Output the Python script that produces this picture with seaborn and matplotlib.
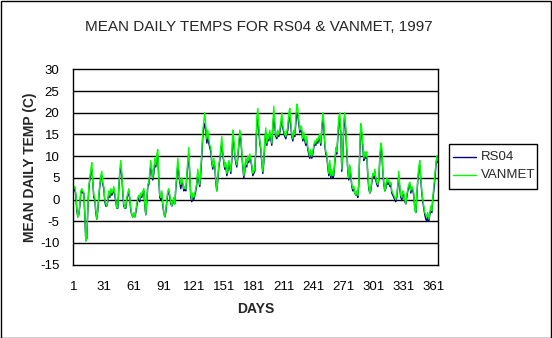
import numpy as np
import pandas as pd
import matplotlib
matplotlib.use("Agg")
import matplotlib.pyplot as plt
import seaborn as sns
from matplotlib.patches import Rectangle

title = "MEAN DAILY TEMPS FOR RS04 & VANMET, 1997"
x_label = "DAYS"
y_label = "MEAN DAILY TEMP (C)"
x_tick_labels = [1, 31, 61, 91, 121, 151, 181, 211, 241, 271, 301, 331, 361]
y_ticks = [-15, -10, -5, 0, 5, 10, 15, 20, 25, 30]

vanmet = [
    2.5, 3.0, 1.5, -2.0, -4.0, -3.5, -1.0, 2.0, 2.5, 2.0,
    1.5, -3.0, -9.5, -8.5, -2.0, 3.0, 5.0, 7.0, 8.5, 4.0,
    1.0, 0.5, -2.5, -4.5, -2.0, 1.0, 3.5, 5.5, 6.5, 4.0,
    3.0, 0.0, -1.0, -1.5, 0.0, 2.0, 1.0, 2.5, 1.5, 2.0,
    3.0, 1.5, 0.0, -2.0, -1.5, 3.0, 7.0, 9.0, 6.0, 2.0,
    -1.0, -2.0, -1.5, 0.5, 1.5, 2.5, 0.5, -2.0, -3.5, -4.0,
    -3.0, -4.0, -2.5, -1.0, 0.5, 1.0, 0.0, 1.5, 1.0, 2.0,
    2.5, -1.0, -3.5, 0.0, 3.5, 4.0, 6.5, 9.0, 7.0, 5.0,
    7.0, 9.5, 8.0, 10.5, 11.5, 5.0, 1.0, 0.5, 2.0, -1.0,
    -3.0, -4.0, -2.5, 0.0, 2.0, 2.5, 1.0, -0.5, -1.5, -0.5,
    0.5, -1.0, 3.0, 6.0, 9.5, 7.0, 4.5, 3.5, 5.0, 4.0,
    2.5, 3.0, 2.5, 5.5, 9.0, 12.0, 6.0, 1.0, 0.0, 1.5,
    0.5, 1.5, 2.5, 4.0, 7.0, 5.0, 3.5, 7.0, 11.0, 16.0,
    18.0, 20.0, 17.0, 14.0, 16.0, 14.0, 12.5, 12.0, 9.0, 7.5,
    9.5, 8.0, 4.5, 2.0, 5.0, 8.0, 9.5, 12.0, 14.5, 11.0,
    9.0, 7.5, 8.5, 6.0, 7.0, 9.0, 8.0, 6.5, 10.0, 16.0,
    14.0, 10.5, 9.0, 8.0, 10.0, 13.5, 16.0, 15.0, 11.0, 8.0,
    5.5, 7.0, 9.5, 8.0, 10.0, 9.0, 10.5, 9.5, 8.0, 6.0,
    6.5, 7.0, 12.0, 19.0, 21.0, 17.0, 13.5, 12.0, 9.0, 6.5,
    9.0, 14.0, 16.5, 13.0, 15.0, 14.0, 16.0, 14.5, 13.0, 17.0,
    21.5, 18.0, 15.0, 14.5, 16.0, 15.0, 16.0, 18.0, 20.0, 17.0,
    16.0, 15.0, 14.5, 15.5, 17.0, 20.0, 21.0, 18.0, 15.0, 14.0,
    16.0, 15.0, 19.0, 22.0, 21.0, 18.5, 16.0, 17.0, 16.5, 14.0,
    15.5, 14.0, 13.0, 14.5, 12.0, 11.0, 10.0, 11.5, 10.0, 11.0,
    12.5, 13.5, 13.0, 14.0, 13.5, 14.5, 15.0, 13.0, 17.0, 20.0,
    18.0, 13.0, 11.0, 10.5, 8.0, 6.0, 9.0, 5.5, 7.0, 5.5,
    6.0, 9.0, 12.0, 11.0, 15.0, 19.0, 20.0, 16.0, 7.0, 11.0,
    18.5, 20.0, 16.5, 12.0, 7.0, 5.0, 8.0, 6.0, 3.5, 2.5,
    3.0, 1.5, 1.0, 2.0, 1.0, 4.0, 12.0, 17.5, 16.0, 13.0,
    9.5, 11.0, 10.0, 11.0, 6.0, 3.0, 1.5, 2.5, 4.5, 6.0,
    5.5, 7.0, 5.0, 4.0, 3.5, 5.0, 10.0, 13.0, 12.0, 7.0,
    4.0, 2.0, 3.0, 5.0, 4.0, 4.5, 3.5, 4.0, 2.0, 1.5,
    1.0, 0.5, 0.0, 1.0, 3.5, 6.5, 3.0, 1.0, 0.5, 2.0,
    1.5, 0.0, -1.0, 1.0, 2.5, 3.5, 4.0, 2.0, 3.0, 2.5,
    1.5, -2.5, -3.0, 1.0, 5.0, 7.5, 9.0, 5.0, 2.0, 0.0,
    -1.5, -3.0, -3.5, -4.0, -3.0, -4.5, -3.0, -1.5, -2.5, 0.5,
    3.0, 5.5, 8.0, 10.0, 9.0,
]

rs04 = [
    2.0, 2.5, 1.0, -2.5, -4.0, -3.5, -1.5, 1.5, 2.0, 1.5,
    1.5, -3.5, -9.5, -9.0, -2.5, 2.5, 4.5, 6.0, 7.0, 4.0,
    0.5, 0.0, -3.0, -4.5, -2.5, 0.5, 3.0, 5.0, 5.5, 3.5,
    2.5, -0.5, -1.5, -1.5, -0.5, 1.5, 0.5, 2.0, 1.0, 1.5,
    2.5, 1.0, -0.5, -2.0, -2.0, 2.5, 6.0, 7.5, 5.5, 1.5,
    -1.5, -2.0, -2.0, 0.0, 1.0, 2.0, 0.0, -2.5, -3.5, -4.0,
    -3.5, -4.0, -3.0, -1.5, 0.0, 0.5, -0.5, 1.0, 0.5, 1.5,
    2.0, -1.5, -3.5, -0.5, 3.0, 3.5, 5.5, 8.0, 6.5, 4.5,
    6.0, 8.5, 7.5, 9.5, 10.0, 4.5, 0.5, 0.0, 1.5, -1.5,
    -3.0, -4.0, -3.0, -0.5, 1.5, 2.0, 0.5, -1.0, -1.5, -1.0,
    0.0, -1.0, 2.5, 5.0, 8.0, 6.0, 4.0, 2.5, 4.0, 3.5,
    2.0, 2.5, 2.0, 5.0, 8.0, 10.5, 5.5, 0.5, -0.5, 1.0,
    0.0, 1.0, 2.0, 3.5, 6.0, 4.5, 3.0, 6.0, 10.0, 14.5,
    16.5, 17.5, 16.0, 13.0, 14.5, 13.0, 12.0, 11.0, 8.5, 7.0,
    8.5, 7.5, 4.0, 2.0, 4.5, 7.5, 9.0, 11.0, 13.0, 10.5,
    8.5, 7.0, 8.0, 5.5, 6.5, 8.5, 7.5, 6.0, 9.0, 14.0,
    13.0, 10.0, 8.5, 7.5, 9.5, 12.5, 14.5, 14.0, 10.5, 7.5,
    5.0, 6.5, 9.0, 7.5, 9.5, 8.5, 10.0, 9.0, 7.5, 5.5,
    6.0, 6.5, 11.0, 17.0, 18.5, 16.0, 13.0, 11.5, 8.5, 6.0,
    8.5, 13.0, 15.5, 12.5, 14.5, 13.5, 15.0, 14.0, 12.5, 16.0,
    19.5, 17.0, 14.5, 14.0, 15.0, 14.5, 15.5, 17.0, 18.0, 16.5,
    15.5, 14.5, 14.0, 15.0, 16.0, 18.5, 19.0, 17.0, 14.5, 13.5,
    15.0, 14.5, 17.5, 20.0, 19.5, 17.5, 15.5, 16.0, 15.5, 13.5,
    14.5, 13.5, 12.5, 13.5, 11.5, 10.5, 9.5, 11.0, 9.5, 10.5,
    12.0, 13.0, 12.5, 13.5, 13.0, 14.0, 14.0, 12.5, 16.0, 18.5,
    17.0, 12.5, 10.5, 10.0, 7.5, 5.5, 8.0, 5.0, 6.5, 5.0,
    5.5, 8.5, 11.0, 10.5, 14.0, 17.5, 18.5, 15.0, 6.5, 10.0,
    17.0, 18.5, 15.5, 11.0, 6.5, 4.5, 7.5, 5.5, 3.0, 2.0,
    2.5, 1.5, 1.0, 1.5, 0.5, 3.5, 11.0, 16.5, 15.0, 12.0,
    9.0, 10.0, 9.5, 10.0, 5.5, 2.5, 1.5, 2.0, 4.0, 5.5,
    5.0, 6.5, 4.5, 3.5, 3.0, 4.5, 9.0, 12.0, 11.0, 6.5,
    3.5, 2.0, 2.5, 4.5, 3.5, 4.0, 3.0, 3.5, 1.5, 1.0,
    0.5, 0.0, -0.5, 0.5, 3.0, 5.5, 2.5, 0.5, 0.0, 1.5,
    1.0, -0.5, -1.0, 0.5, 2.0, 3.0, 3.5, 1.5, 2.5, 2.0,
    1.0, -2.0, -3.0, 0.5, 4.5, 6.5, 8.0, 4.5, 1.5, -0.5,
    -2.0, -3.5, -4.5, -5.0, -4.0, -5.0, -3.5, -2.5, -3.0, 0.0,
    2.0, 4.5, 7.5, 9.5, 8.5,
]

days = list(range(1, len(vanmet) + 1))
df = pd.DataFrame({
    "day": days * 2,
    "temp": rs04 + vanmet,
    "series": ["RS04"] * len(rs04) + ["VANMET"] * len(vanmet),
})

sns.set_theme(style="white")
plt.rcParams["font.family"] = ["Liberation Sans", "DejaVu Sans"]
plt.rcParams["axes.unicode_minus"] = False

W, H = 552, 338
fig = plt.figure(figsize=(W / 100, H / 100), dpi=100)
fig.patch.set_facecolor("white")
ax = fig.add_axes([73.3 / W, 1 - 264.7 / H, 365 / W, 195.4 / H])

palette = {"RS04": "#000080", "VANMET": "#00FF00"}
sns.lineplot(data=df, x="day", y="temp", hue="series", palette=palette,
             linewidth=1.0, ax=ax, legend=False, estimator=None)

ax.set_xlim(0.5, 365.5)
ax.set_ylim(-15, 30)
ax.set_yticks(y_ticks)
ax.set_yticklabels([str(v) for v in y_ticks], fontsize=9.5)
ax.set_xticks(x_tick_labels)
ax.set_xticklabels([str(v) for v in x_tick_labels], fontsize=9.5)
ax.tick_params(axis="both", direction="out", length=4, width=1, color="black",
               labelcolor="black")
ax.tick_params(axis="y", pad=6)
ax.tick_params(axis="x", pad=8)
for y in y_ticks[1:-1]:
    ax.axhline(y, color="black", linewidth=1.0, zorder=0)
for s in ax.spines.values():
    s.set_color("black")
    s.set_linewidth(1.0)
    s.set_visible(True)
ax.grid(False)

ax.set_xlabel(x_label, fontsize=10, fontweight="bold", labelpad=6)
ax.set_ylabel(y_label, fontsize=10, fontweight="bold", labelpad=2)
fig.text(259 / W, 1 - 27 / H, title, ha="center", va="center", fontsize=11)

# legend box
lx0, ly0, lx1, ly1 = 449 / W, 1 - 189 / H, 537 / W, 1 - 144 / H
fig.patches.append(Rectangle((lx0, ly0), lx1 - lx0, ly1 - ly0, transform=fig.transFigure,
                             facecolor="white", edgecolor="black", linewidth=1.0))
for name, yy in [("RS04", 157), ("VANMET", 175)]:
    fig.lines.append(plt.Line2D([453 / W, 476 / W], [1 - yy / H, 1 - yy / H],
                                transform=fig.transFigure, color=palette[name], linewidth=1.0))
    fig.text(481 / W, 1 - yy / H, name, ha="left", va="center", fontsize=9.5)

# outer border
fig.patches.append(Rectangle((0.5 / W, 0.5 / H), 1 - 1.5 / W, 1 - 1.5 / H, transform=fig.transFigure,
                             facecolor="none", edgecolor="black", linewidth=1.0))

fig.savefig("out.png", dpi=100)
